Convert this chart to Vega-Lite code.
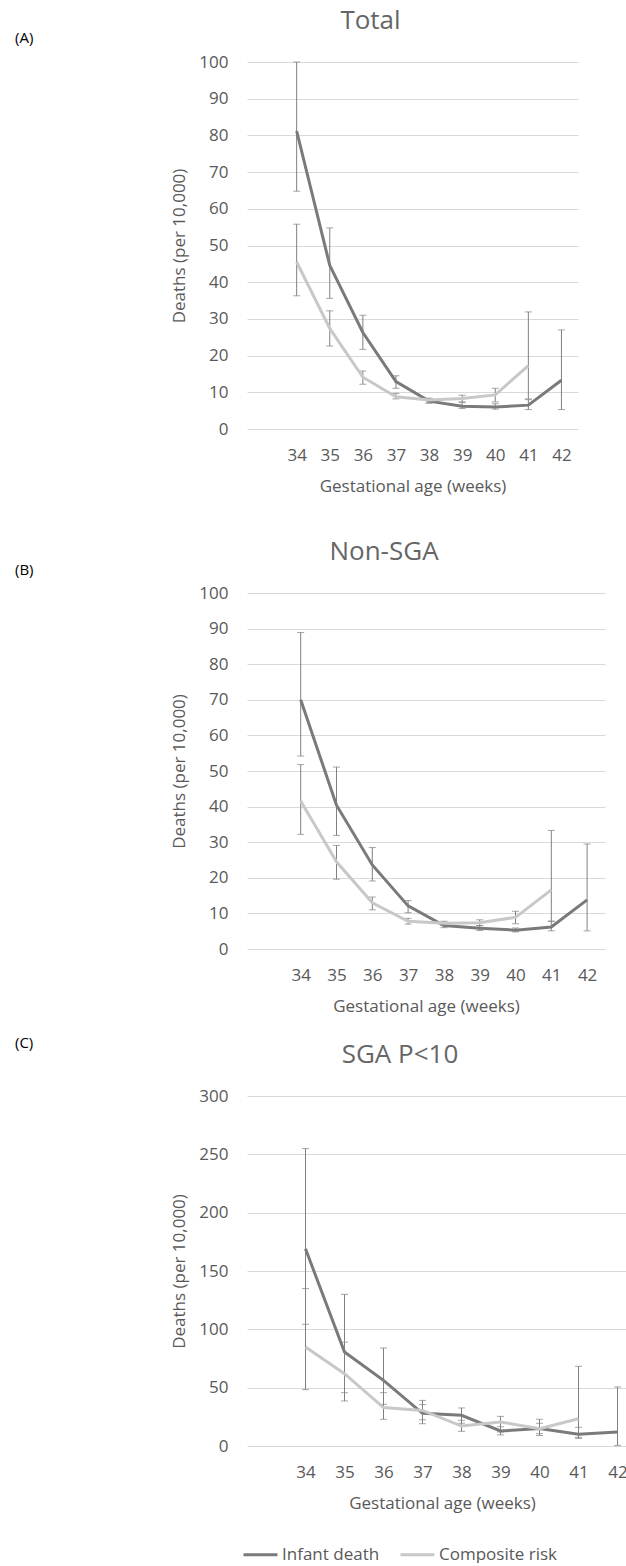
{
  "$schema": "https://vega.github.io/schema/vega-lite/v6.json",
  "background": "white",
  "padding": {"left": 15, "top": 8, "right": 0, "bottom": 0},
  "datasets": {
    "d": [
      {"panel": "A", "series": "Infant death", "ga": 34, "val": 81.2, "lo": 64.8, "hi": 100},
      {"panel": "A", "series": "Infant death", "ga": 35, "val": 44.6, "lo": 35.6, "hi": 54.8},
      {"panel": "A", "series": "Infant death", "ga": 36, "val": 26.3, "lo": 21.7, "hi": 31.0},
      {"panel": "A", "series": "Infant death", "ga": 37, "val": 12.9, "lo": 11.1, "hi": 14.5},
      {"panel": "A", "series": "Infant death", "ga": 38, "val": 7.6, "lo": 7.0, "hi": 8.3},
      {"panel": "A", "series": "Infant death", "ga": 39, "val": 6.2, "lo": 5.6, "hi": 7.2},
      {"panel": "A", "series": "Infant death", "ga": 40, "val": 6.0, "lo": 5.4, "hi": 6.9},
      {"panel": "A", "series": "Infant death", "ga": 41, "val": 6.5, "lo": 5.3, "hi": 8.0},
      {"panel": "A", "series": "Infant death", "ga": 42, "val": 13.3, "lo": 5.3, "hi": 27.0},
      {"panel": "A", "series": "Composite risk", "ga": 34, "val": 45.5, "lo": 36.3, "hi": 55.8},
      {"panel": "A", "series": "Composite risk", "ga": 35, "val": 27.4, "lo": 22.6, "hi": 32.2},
      {"panel": "A", "series": "Composite risk", "ga": 36, "val": 14.1, "lo": 12.2, "hi": 15.8},
      {"panel": "A", "series": "Composite risk", "ga": 37, "val": 8.8, "lo": 8.2, "hi": 9.7},
      {"panel": "A", "series": "Composite risk", "ga": 38, "val": 7.9, "lo": 7.3, "hi": 8.4},
      {"panel": "A", "series": "Composite risk", "ga": 39, "val": 8.3, "lo": 7.4, "hi": 9.2},
      {"panel": "A", "series": "Composite risk", "ga": 40, "val": 9.3, "lo": 7.4, "hi": 11.1},
      {"panel": "A", "series": "Composite risk", "ga": 41, "val": 17.3, "lo": 8.2, "hi": 31.9},
      {"panel": "B", "series": "Infant death", "ga": 34, "val": 70.0, "lo": 54.2, "hi": 88.9},
      {"panel": "B", "series": "Infant death", "ga": 35, "val": 40.4, "lo": 31.9, "hi": 51.1},
      {"panel": "B", "series": "Infant death", "ga": 36, "val": 23.6, "lo": 19.1, "hi": 28.5},
      {"panel": "B", "series": "Infant death", "ga": 37, "val": 12.1, "lo": 10.2, "hi": 13.6},
      {"panel": "B", "series": "Infant death", "ga": 38, "val": 6.6, "lo": 6.0, "hi": 7.5},
      {"panel": "B", "series": "Infant death", "ga": 39, "val": 5.8, "lo": 5.2, "hi": 6.5},
      {"panel": "B", "series": "Infant death", "ga": 40, "val": 5.3, "lo": 4.8, "hi": 5.9},
      {"panel": "B", "series": "Infant death", "ga": 41, "val": 6.2, "lo": 5.1, "hi": 7.8},
      {"panel": "B", "series": "Infant death", "ga": 42, "val": 13.8, "lo": 5.1, "hi": 29.5},
      {"panel": "B", "series": "Composite risk", "ga": 34, "val": 41.6, "lo": 32.2, "hi": 51.8},
      {"panel": "B", "series": "Composite risk", "ga": 35, "val": 24.5, "lo": 19.6, "hi": 29.1},
      {"panel": "B", "series": "Composite risk", "ga": 36, "val": 13.0, "lo": 11.0, "hi": 14.6},
      {"panel": "B", "series": "Composite risk", "ga": 37, "val": 7.8, "lo": 7.0, "hi": 8.6},
      {"panel": "B", "series": "Composite risk", "ga": 38, "val": 7.2, "lo": 6.6, "hi": 7.8},
      {"panel": "B", "series": "Composite risk", "ga": 39, "val": 7.4, "lo": 6.6, "hi": 8.2},
      {"panel": "B", "series": "Composite risk", "ga": 40, "val": 8.9, "lo": 7.1, "hi": 10.6},
      {"panel": "B", "series": "Composite risk", "ga": 41, "val": 16.6, "lo": 7.8, "hi": 33.3},
      {"panel": "C", "series": "Infant death", "ga": 34, "val": 169, "lo": 104.3, "hi": 254.9},
      {"panel": "C", "series": "Infant death", "ga": 35, "val": 80.6, "lo": 45.7, "hi": 130},
      {"panel": "C", "series": "Infant death", "ga": 36, "val": 56.3, "lo": 35.7, "hi": 84},
      {"panel": "C", "series": "Infant death", "ga": 37, "val": 28, "lo": 19.1, "hi": 39.1},
      {"panel": "C", "series": "Infant death", "ga": 38, "val": 26.3, "lo": 19.5, "hi": 32.6},
      {"panel": "C", "series": "Infant death", "ga": 39, "val": 12.9, "lo": 9.5, "hi": 16.5},
      {"panel": "C", "series": "Infant death", "ga": 40, "val": 14.9, "lo": 9.0, "hi": 19.5},
      {"panel": "C", "series": "Infant death", "ga": 41, "val": 10.0, "lo": 6.5, "hi": 16.0},
      {"panel": "C", "series": "Infant death", "ga": 42, "val": 12.0, "lo": 0.5, "hi": 50.6},
      {"panel": "C", "series": "Composite risk", "ga": 34, "val": 84.9, "lo": 48.3, "hi": 134.9},
      {"panel": "C", "series": "Composite risk", "ga": 35, "val": 62.0, "lo": 38.6, "hi": 89},
      {"panel": "C", "series": "Composite risk", "ga": 36, "val": 32.9, "lo": 22.9, "hi": 45.7},
      {"panel": "C", "series": "Composite risk", "ga": 37, "val": 30.5, "lo": 22.5, "hi": 35.5},
      {"panel": "C", "series": "Composite risk", "ga": 38, "val": 17.1, "lo": 12.6, "hi": 22.0},
      {"panel": "C", "series": "Composite risk", "ga": 39, "val": 20.6, "lo": 12.0, "hi": 25.4},
      {"panel": "C", "series": "Composite risk", "ga": 40, "val": 14.9, "lo": 10.6, "hi": 22.9},
      {"panel": "C", "series": "Composite risk", "ga": 41, "val": 23.4, "lo": 7.4, "hi": 68.3}
    ]
  },
  "spacing": 45,
  "vconcat": [
    {
      "title": {"text": "(A)", "anchor": "start", "frame": "group", "dx": -232, "dy": 42, "fontSize": 15, "color": "black", "fontWeight": "normal", "font": "Open Sans"},
      "vconcat": [
        {
          "width": 331, "height": 367,
          "title": {"text": "Total", "dx": -42, "offset": -2, "baseline": "alphabetic"},
          "data": {"name": "d"},
          "transform": [{"filter": "datum.panel === 'A'"}],
          "encoding": {
            "x": {"field": "ga", "type": "quantitative", "scale": {"domain": [32.5, 42.5]}, "axis": {"values": [34, 35, 36, 37, 38, 39, 40, 41, 42], "title": "Gestational age (weeks)"}}
          },
          "layer": [
            {
              "mark": {"type": "errorbar", "color": "#808080", "thickness": 1, "ticks": {"size": 7}},
              "encoding": {
                "y": {"field": "lo", "type": "quantitative", "scale": {"domain": [0, 100]}, "axis": {"values": [0, 10, 20, 30, 40, 50, 60, 70, 80, 90, 100], "title": "Deaths (per 10,000)"}},
                "y2": {"field": "hi"}
              }
            },
            {
              "mark": {"type": "line", "strokeWidth": 3},
              "encoding": {
                "y": {"field": "val", "type": "quantitative", "axis": {"values": [0, 10, 20, 30, 40, 50, 60, 70, 80, 90, 100], "title": "Deaths (per 10,000)"}},
                "color": {"field": "series", "type": "nominal", "scale": {"domain": ["Infant death", "Composite risk"], "range": ["#7a7a7a", "#c8c8c8"]}, "legend": {"orient": "none", "legendX": -5, "legendY": 1474, "direction": "horizontal", "title": null, "symbolType": "stroke", "symbolStrokeWidth": 3, "symbolSize": 1156, "labelFontSize": 17, "labelFont": "Open Sans", "labelColor": "#595959", "labelOffset": 3, "columnPadding": 14}}
              }
            }
          ]
        }
      ]
    },
    {
      "spacing": 22,
      "vconcat": [
        {
          "title": {"text": "(B)", "anchor": "start", "frame": "group", "dx": -232, "dy": 43, "fontSize": 15, "color": "black", "fontWeight": "normal", "font": "Open Sans"},
          "vconcat": [
            {
              "width": 358, "height": 356,
              "title": {"text": "Non-SGA", "dx": -42, "offset": -2, "baseline": "alphabetic"},
              "data": {"name": "d"},
              "transform": [{"filter": "datum.panel === 'B'"}],
              "encoding": {
                "x": {"field": "ga", "type": "quantitative", "scale": {"domain": [32.5, 42.5]}, "axis": {"values": [34, 35, 36, 37, 38, 39, 40, 41, 42], "title": "Gestational age (weeks)"}}
              },
              "layer": [
                {
                  "mark": {"type": "errorbar", "color": "#808080", "thickness": 1, "ticks": {"size": 7}},
                  "encoding": {
                    "y": {"field": "lo", "type": "quantitative", "scale": {"domain": [0, 100]}, "axis": {"values": [0, 10, 20, 30, 40, 50, 60, 70, 80, 90, 100], "title": "Deaths (per 10,000)"}},
                    "y2": {"field": "hi"}
                  }
                },
                {
                  "mark": {"type": "line", "strokeWidth": 3},
                  "encoding": {
                    "y": {"field": "val", "type": "quantitative", "axis": {"values": [0, 10, 20, 30, 40, 50, 60, 70, 80, 90, 100], "title": "Deaths (per 10,000)"}},
                    "color": {"field": "series", "type": "nominal", "scale": {"domain": ["Infant death", "Composite risk"], "range": ["#7a7a7a", "#c8c8c8"]}}
                  }
                }
              ]
            }
          ]
        },
        {
          "title": {"text": "(C)", "anchor": "start", "frame": "group", "dx": -232, "dy": 13, "fontSize": 15, "color": "black", "fontWeight": "normal", "font": "Open Sans"},
          "vconcat": [
            {
              "width": 390, "height": 350,
              "title": {"text": "SGA P<10", "dx": -42, "offset": -2, "baseline": "alphabetic"},
              "data": {"name": "d"},
              "transform": [{"filter": "datum.panel === 'C'"}],
              "encoding": {
                "x": {"field": "ga", "type": "quantitative", "scale": {"domain": [32.5, 42.5]}, "axis": {"values": [34, 35, 36, 37, 38, 39, 40, 41, 42], "title": "Gestational age (weeks)"}}
              },
              "layer": [
                {
                  "mark": {"type": "errorbar", "color": "#808080", "thickness": 1, "ticks": {"size": 7}},
                  "encoding": {
                    "y": {"field": "lo", "type": "quantitative", "scale": {"domain": [0, 300]}, "axis": {"values": [0, 50, 100, 150, 200, 250, 300], "title": "Deaths (per 10,000)"}},
                    "y2": {"field": "hi"}
                  }
                },
                {
                  "mark": {"type": "line", "strokeWidth": 3},
                  "encoding": {
                    "y": {"field": "val", "type": "quantitative", "axis": {"values": [0, 50, 100, 150, 200, 250, 300], "title": "Deaths (per 10,000)"}},
                    "color": {"field": "series", "type": "nominal", "scale": {"domain": ["Infant death", "Composite risk"], "range": ["#7a7a7a", "#c8c8c8"]}}
                  }
                }
              ]
            }
          ]
        }
      ]
    }
  ],
  "config": {
    "font": "Open Sans",
    "view": {"stroke": null},
    "title": {"font": "Open Sans", "fontSize": 26, "fontWeight": "normal", "color": "#666666"},
    "axis": {"labelFont": "Open Sans", "titleFont": "Open Sans", "labelFontSize": 17, "titleFontSize": 17, "labelColor": "#595959", "titleColor": "#595959", "titleFontWeight": "normal", "domain": false, "ticks": false, "tickSize": 0},
    "axisY": {"grid": true, "gridColor": "#d9d9d9", "gridWidth": 1, "labelPadding": 19, "titlePadding": 10},
    "axisX": {"grid": false, "labelPadding": 18, "titlePadding": 15, "labelFlush": false}
  }
}
